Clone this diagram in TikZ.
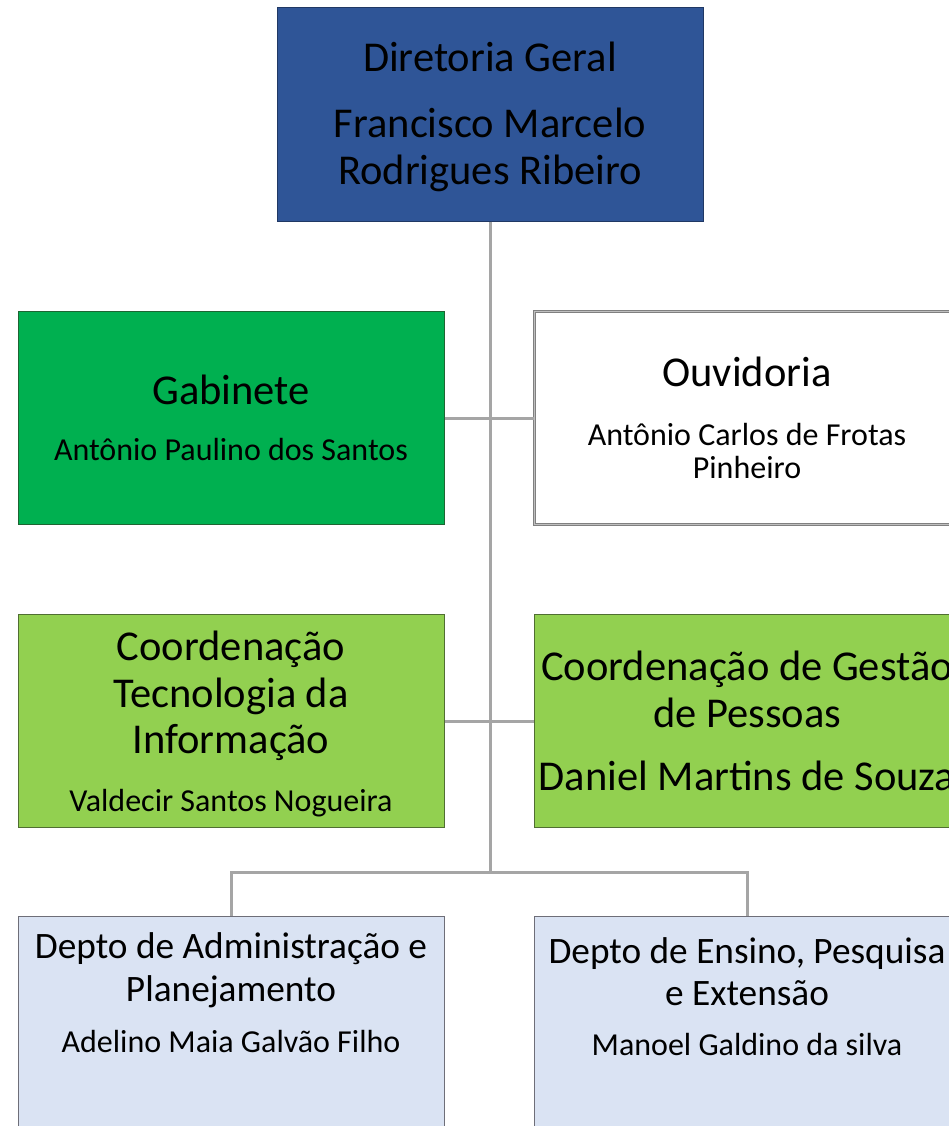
\documentclass[tikz,border=0pt]{standalone}
\usepackage{fontspec}
\setmainfont{Carlito}
\usetikzlibrary{positioning,calc}
\definecolor{dgblue}{RGB}{47,85,151}
\definecolor{dgblueline}{RGB}{32,56,100}
\definecolor{gabgreen}{RGB}{0,176,80}
\definecolor{gabline}{RGB}{30,100,50}
\definecolor{coordgreen}{RGB}{146,208,80}
\definecolor{coordline}{RGB}{80,110,50}
\definecolor{deptblue}{RGB}{218,227,243}
\definecolor{deptline}{RGB}{110,110,120}
\definecolor{linkgray}{RGB}{165,165,165}
\newcommand{\setfs}[2]{\fontsize{#1}{#2}\selectfont}
\tikzstyle{unit}=[rectangle, draw, line width=1pt, minimum width=426pt,
	minimum height=213pt, align=center, inner sep=0pt]
\tikzstyle{link}=[draw=linkgray, line width=3pt]
\begin{document}
\begin{tikzpicture}[x=1pt, y=-1pt]
	\useasboundingbox (0,0) rectangle (949,1126);
	\clip (0,0) rectangle (949,1126);
	\node[unit, fill=dgblue, draw=dgblueline, font=\setfs{42.5}{47}, text depth=2pt] (dg) at (490,114.5)
		{Diretoria Geral\\[19pt]Francisco Marcelo\\Rodrigues Ribeiro};
	\node[unit, fill=gabgreen, draw=gabline, font=\setfs{42.5}{44}] (gab) at (231,418)
		{Gabinete\\[12pt]{\setfs{32}{33}Antônio Paulino dos Santos}};
	\node[unit, fill=white, draw=gray, double=lightgray, double distance=1pt,
		font=\setfs{32}{33}] (ouv) at (747,418)
		{{\setfs{42.5}{44}Ouvidoria}\\[26pt]Antônio Carlos de Frotas\\Pinheiro};
	\node[unit, fill=coordgreen, draw=coordline, font=\setfs{42.5}{46.5}, text depth=0pt] (cti) at (231,721)
		{Coordenação\\Tecnologia da\\Informação\\[11pt]{\setfs{32}{33}Valdecir Santos Nogueira}};
	\node[unit, fill=coordgreen, draw=coordline, font=\setfs{42.5}{47}] (cgp) at (747,721)
		{Coordenação de Gestão\\de Pessoas\\[16pt]Daniel Martins de Souza};
	\node[unit, fill=deptblue, draw=deptline, font=\setfs{37.3}{43}, text depth=60pt] (dap) at (231,1022.5)
		{Depto de Administração e\\Planejamento\\[8pt]{\setfs{32}{33}Adelino Maia Galvão Filho}};
	\node[unit, fill=deptblue, draw=deptline, font=\setfs{37.3}{42}, text depth=52pt] (dep) at (747,1022.5)
		{Depto de Ensino, Pesquisa\\e Extensão\\[8pt]{\setfs{32}{33}Manoel Galdino da silva}};
	\coordinate (bus) at (490,872);
	\draw[link] (dg.south) -- (bus);
	\draw[link] (gab.east) -- (ouv.west);
	\draw[link] (cti.east) -- (cgp.west);
	\draw[link] (dap.north) |- (bus) -| (dep.north);
\end{tikzpicture}
\end{document}
